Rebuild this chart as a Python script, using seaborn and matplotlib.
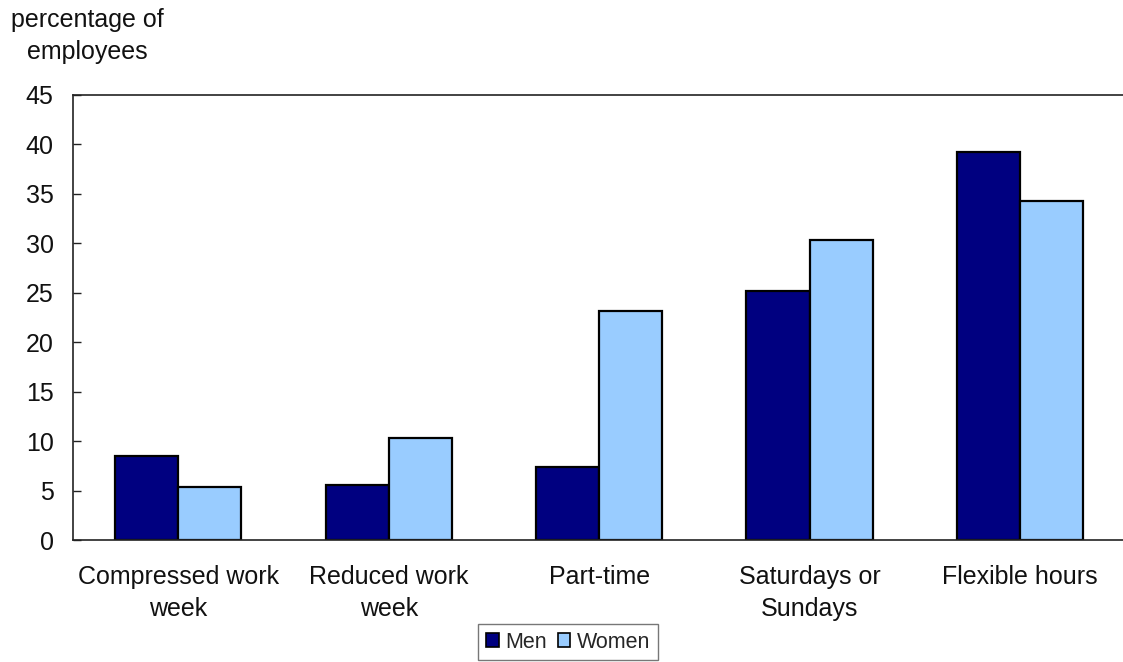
import matplotlib
matplotlib.use("Agg")
import matplotlib.pyplot as plt
import pandas as pd
import seaborn as sns

categories = ["Compressed work\nweek", "Reduced work\nweek", "Part-time",
              "Saturdays or\nSundays", "Flexible hours"]
men = [8.5, 5.6, 7.4, 25.2, 39.2]
women = [5.4, 10.3, 23.2, 30.3, 34.3]
series = ["Men", "Women"]
colors = {"Men": "#000080", "Women": "#99CCFF"}
y_ticks = [0, 5, 10, 15, 20, 25, 30, 35, 40, 45]

df = pd.DataFrame({
    "category": categories * 2,
    "sex": ["Men"] * len(categories) + ["Women"] * len(categories),
    "value": men + women,
})

sns.set_theme(style="white")
plt.rcParams["font.family"] = ["Liberation Sans", "DejaVu Sans"]

fig = plt.figure(figsize=(11.23, 6.62), dpi=100)
ax = fig.add_axes([73 / 1123, 1 - 540 / 662, 1 - 73 / 1123 + 0.002, 445 / 662])

sns.barplot(data=df, x="category", y="value", hue="sex", hue_order=series,
            palette=colors, width=0.6, edgecolor="black", linewidth=1.6,
            saturation=1, ax=ax, legend=False, dodge=True)

ax.set_ylim(0, 45)
ax.set_xlim(-0.5, len(categories) - 0.5)
ax.set_yticks(y_ticks)
ax.set_yticklabels([str(t) for t in y_ticks], fontsize=18, color="#111111")
ax.tick_params(axis="y", direction="in", length=6, width=1, color="#222222",
               pad=14, left=True)
ax.tick_params(axis="x", length=0, pad=18, labelsize=18, labelcolor="#111111")
for lbl in ax.get_xticklabels():
    lbl.set_linespacing(1.4)
ax.set_xlabel("")
ax.set_ylabel("")

for side in ["left", "top", "bottom"]:
    ax.spines[side].set_visible(True)
    ax.spines[side].set_color("#222222")
    ax.spines[side].set_linewidth(1.2)
ax.spines["right"].set_visible(False)

fig.text(87 / 1123, 1 - 20 / 662, "percentage of", ha="center",
         va="center", fontsize=18, color="#111111")
fig.text(87 / 1123, 1 - 52 / 662, "employees", ha="center",
         va="center", fontsize=18, color="#111111")

handles = [plt.Rectangle((0, 0), 1, 1, facecolor=colors[s], edgecolor="black",
                         linewidth=1.2) for s in series]
leg = fig.legend(handles, series, loc="upper center",
                 bbox_to_anchor=(568 / 1123, 1 - 624 / 662), ncol=2,
                 frameon=True, fontsize=15.5, handlelength=0.6, handleheight=0.6,
                 handletextpad=0.3, columnspacing=0.5, borderpad=0.35,
                 fancybox=False, borderaxespad=0)
leg.get_frame().set_edgecolor("#555555")
leg.get_frame().set_linewidth(1)

fig.savefig("out.png", dpi=100)
